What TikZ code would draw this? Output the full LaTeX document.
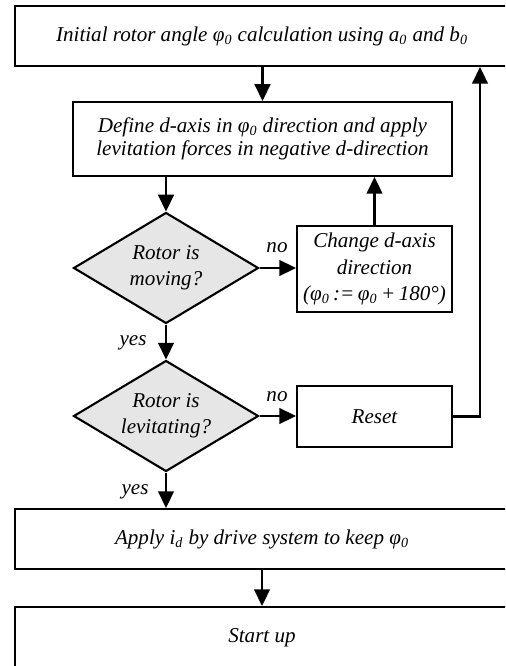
\documentclass[tikz,border=0pt]{standalone}
\usepackage{fontspec}
\setmainfont{Liberation Serif}
\usepackage{tikz}
\usetikzlibrary{shapes.geometric,arrows.meta}

\definecolor{decgray}{RGB}{230,230,230}

\begin{document}
\begin{tikzpicture}
%% Fix the frame
\useasboundingbox (0,0) rectangle (10.1,-13.32);
\clip (0,0) rectangle (10.1,-13.32);

\tikzstyle{every path}=[very thick]

\edef\boxwidth{9.88cm}
\tikzstyle{every node}=[font=\fontsize{12}{14.5}\selectfont\itshape]
\tikzstyle{stepbox}=[draw,align=center,inner sep=2pt]
\tikzstyle{decision}=[diamond,draw,fill=decgray,align=center,inner sep=0pt,
aspect=1.67,minimum width=3.7cm,minimum height=2.22cm]
\tikzstyle{flow}=[-{Triangle[length=9.5pt,width=9pt]}]
\tikzstyle{answer}=[inner sep=0pt]

%% Draw main column
\node [stepbox,minimum width=\boxwidth,minimum height=1.2cm] (init) at (5.24,-0.72)
    {Initial rotor angle φ\textsubscript{0} calculation using \textit{a}\textsubscript{0} and \textit{b}\textsubscript{0}};
\node [stepbox,minimum width=7.58cm,minimum height=1.48cm,
    font=\fontsize{12}{13.2}\selectfont\itshape] (define) at (5.25,-2.78)
    {Define d-axis in φ\textsubscript{0} direction and apply\\levitation forces in negative d-direction};
\node [decision] (move) at (3.32,-5.36) {Rotor is\\moving?};
\node [decision] (levit) at (3.32,-8.32) {Rotor is\\levitating?};
\node [stepbox,minimum width=\boxwidth,minimum height=1.2cm] (apply) at (5.24,-10.78)
    {Apply \textit{i}\textsubscript{d} by drive system to keep φ\textsubscript{0}};
\node [stepbox,minimum width=\boxwidth,minimum height=1.24cm] (start) at (5.24,-12.76) {Start up};

%% Draw side boxes
\node [stepbox,minimum width=3.1cm,minimum height=1.72cm,
    font=\fontsize{12}{15}\selectfont\itshape] (change) at (7.49,-5.38)
    {Change d-axis\\direction\\(φ\textsubscript{0}\,:=\,φ\textsubscript{0}\,+\,180°)};
\node [stepbox,minimum width=3.1cm,minimum height=1.22cm] (reset) at (7.49,-8.33) {Reset};
\coordinate (back) at (9.6,0);

%% Draw connectors
\draw [flow] (init.south -| define.north) -- (define.north);
\draw [flow] (move.north |- define.south) -- (move.north);
\draw [flow] (move.south) -- (levit.north);
\draw [flow] (levit.south) -- (levit.south |- apply.north);
\draw [flow] (apply.south) -- (start.north);
\draw [flow] (move.east) -- (move.east -| change.west);
\draw [flow] (change.north) -- (change.north |- define.south);
\draw [flow] (levit.east) -- (levit.east -| reset.west);
\draw [flow] (reset.east) -- (reset.east -| back) -- (init.south -| back);

%% Draw labels
\node [answer] (no1) at (5.54,-4.96) {no};
\node [answer] (no2) at (5.54,-7.94) {no};
\node [answer] (yes1) at (2.66,-6.86) {yes};
\node [answer] (yes2) at (2.70,-9.84) {yes};
\end{tikzpicture}
\end{document}
